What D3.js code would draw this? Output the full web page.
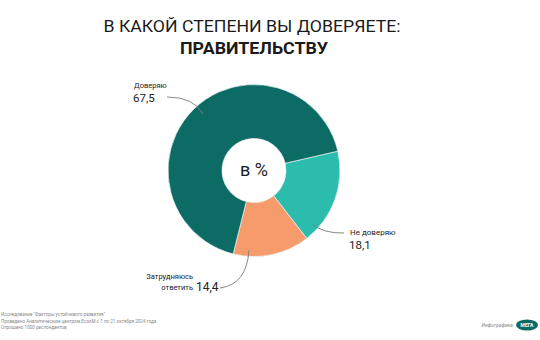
<!DOCTYPE html>
<html>
<head>
<meta charset="utf-8">
<script src="https://cdn.jsdelivr.net/npm/d3@7"></script>
<style>
  html, body { margin: 0; padding: 0; background: #fff; }
  svg { display: block; }
  text { font-family: "Roboto", "Liberation Sans", sans-serif; }
</style>
</head>
<body>
<svg id="chart" width="540" height="340"></svg>
<script>
// Survey answers (percent)
const categories = ["Не доверяю", "Затрудняюсь ответить", "Доверяю"];
const values = [18.1, 14.4, 67.5];
const valueLabels = ["18,1", "14,4", "67,5"];
const colors = ["#2cbcad", "#f69b6c", "#0d6b66"];

const titleLines = ["В КАКОЙ СТЕПЕНИ ВЫ ДОВЕРЯЕТЕ:", "ПРАВИТЕЛЬСТВУ"];
const footnotes = [
  "Исследование \"Факторы устойчивого развития\"",
  "Проведено Аналитическим центром EcooM с 1 по 21 октября 2024 года",
  "Опрошено 1000 респондентов"
];

const svg = d3.select("#chart");
const cx = 254, cy = 170.5, rOuter = 86, rInner = 32;
const deg = Math.PI / 180;

// Title
svg.append("text").attr("x", 252).attr("y", 32)
  .attr("text-anchor", "middle").attr("font-size", 16).attr("fill", "#1a1a1a")
  .attr("textLength", 297).attr("lengthAdjust", "spacingAndGlyphs")
  .text(titleLines[0]);
svg.append("text").attr("x", 254).attr("y", 54)
  .attr("text-anchor", "middle").attr("font-size", 17).attr("font-weight", 700).attr("fill", "#1a1a1a")
  .attr("textLength", 148).attr("lengthAdjust", "spacingAndGlyphs")
  .text(titleLines[1]);

// Donut
const start = 77 * deg;
const pie = d3.pie().sort(null).value(d => d).startAngle(start).endAngle(start + 2 * Math.PI);
const arcs = pie(values);
const arc = d3.arc().innerRadius(rInner).outerRadius(rOuter);

const g = svg.append("g").attr("transform", `translate(${cx},${cy})`);
g.selectAll("path").data(arcs).join("path")
  .attr("d", arc)
  .attr("fill", (d, i) => colors[i])
  .attr("stroke", "#e8f4f2").attr("stroke-width", 0.7);

g.append("text").attr("x", 0).attr("y", 5.5)
  .attr("text-anchor", "middle").attr("font-size", 18).attr("fill", "#1a1a1a")
  .text("в %");

// Leader-line anchor on each slice: fraction along the slice angle, radius
const anchors = [
  { t: 0.85, r: 80 },
  { t: 0.80, r: 80 },
  { t: 0.51, r: 76 }
];
function pointOn(a, i) {
  const ang = a.startAngle + (a.endAngle - a.startAngle) * anchors[i].t;
  const r = anchors[i].r;
  return [cx + r * Math.sin(ang), cy - r * Math.cos(ang)];
}

const lineColor = "#7a7a7a";
function leader(p0, ctrl, p1) {
  const p = d3.path();
  p.moveTo(p0[0], p0[1]);
  p.quadraticCurveTo(ctrl[0], ctrl[1], p1[0], p1[1]);
  svg.append("path").attr("d", p.toString())
    .attr("fill", "none").attr("stroke", lineColor).attr("stroke-width", 0.9);
}

// Не доверяю
const a0 = pointOn(arcs[0], 0);
leader(a0, [a0[0] + 10, a0[1] + 9], [344, 233]);
svg.append("text").attr("x", 350).attr("y", 235).attr("font-size", 8).attr("fill", "#222")
  .text(categories[0]);
svg.append("text").attr("x", 349).attr("y", 249).attr("font-size", 11.5).attr("fill", "#222")
  .text(valueLabels[0]);

// Затрудняюсь ответить
const a1 = pointOn(arcs[1], 1);
leader([220, 288], [a1[0] - 2, a1[1] + 34], a1);
svg.append("text").attr("x", 193).attr("y", 279).attr("text-anchor", "end")
  .attr("font-size", 7.5).attr("fill", "#222").text("Затрудняюсь");
svg.append("text").attr("x", 193).attr("y", 290).attr("text-anchor", "end")
  .attr("font-size", 7.5).attr("fill", "#222").text("ответить");
svg.append("text").attr("x", 196).attr("y", 291).attr("font-size", 12).attr("fill", "#222")
  .text(valueLabels[1]);

// Доверяю
const a2 = pointOn(arcs[2], 2);
leader([167, 97], [194, 97], a2);
svg.append("text").attr("x", 134).attr("y", 88).attr("font-size", 7.5).attr("fill", "#222")
  .text(categories[2]);
svg.append("text").attr("x", 133).attr("y", 102).attr("font-size", 11.5).attr("fill", "#222")
  .text(valueLabels[2]);

// Footnotes
svg.append("g").selectAll("text").data(footnotes).join("text")
  .attr("x", 1).attr("y", (d, i) => [316, 323, 329][i])
  .attr("font-size", 4.6).attr("fill", "#8a8a8a")
  .text(d => d);

// Credit and badge
svg.append("text").attr("x", 513).attr("y", 327).attr("text-anchor", "end")
  .attr("font-size", 5).attr("font-style", "italic").attr("fill", "#8a8a8a").text("Инфографика");
svg.append("ellipse").attr("cx", 527).attr("cy", 325).attr("rx", 11).attr("ry", 5.5)
  .attr("fill", "#0d6b66");
svg.append("text").attr("x", 527).attr("y", 327).attr("text-anchor", "middle")
  .attr("font-size", 5).attr("font-weight", 700).attr("fill", "#fff").text("МЕГА");
</script>
</body>
</html>
